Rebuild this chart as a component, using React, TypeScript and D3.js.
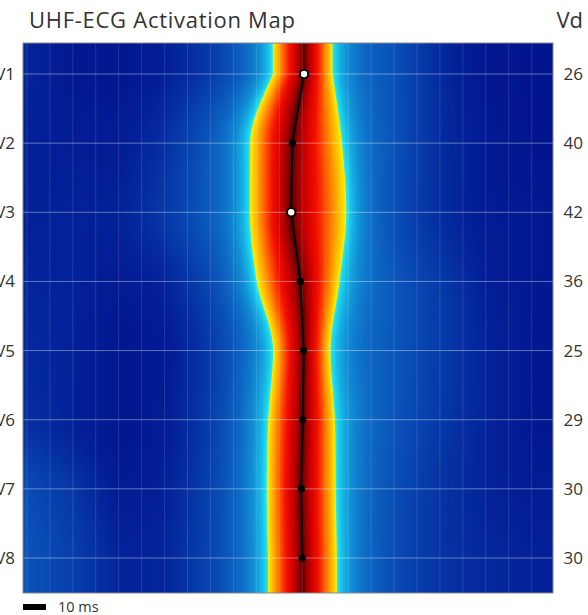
import React, { useMemo } from "react";
import * as d3 from "d3";

// Precordial leads, top to bottom
const leads = ["V1", "V2", "V3", "V4", "V5", "V6", "V7", "V8"];
// Local activation time of each lead (ms, relative to the reference instant)
const activationMs = [0.8, -4.3, -4.8, -0.8, 0.6, 0.2, -0.4, 0.0];
// Onset of the depolarisation band (ms)
const onsetMs = [-12.8, -22.7, -22.8, -19.8, -12.7, -14.8, -15.4, -14.9];
// Depolarisation duration Vd (ms) per lead
const vdMs = [26, 40, 42, 36, 25, 29, 30, 30];

// Time window shown (ms) and tick spacing
const timeDomain: [number, number] = [-121.7, 109.3];
const gridStepMs = 10;
const scaleBarMs = 10;

// Low-level background amplitude per lead, sampled along time
const baselineTimes = [-120, -100, -80, -60, -40, -20, 0, 20, 40, 60, 80, 100];
const baselineV1 = [0.06, 0.03, 0.02, 0.03, 0.05, 0.09, 0.1, 0.11, 0.11, 0.05, 0.02, 0.02];
const baselineV2 = [0.05, 0.04, 0.03, 0.05, 0.09, 0.11, 0.1, 0.11, 0.1, 0.05, 0.03, 0.02];
const baselineV3 = [0.05, 0.05, 0.04, 0.07, 0.1, 0.11, 0.1, 0.1, 0.08, 0.05, 0.03, 0.03];
const baselineV4 = [0.06, 0.05, 0.03, 0.03, 0.06, 0.11, 0.1, 0.13, 0.12, 0.08, 0.04, 0.03];
const baselineV5 = [0.07, 0.05, 0.02, 0.02, 0.05, 0.11, 0.1, 0.13, 0.13, 0.09, 0.05, 0.03];
const baselineV6 = [0.08, 0.05, 0.02, 0.02, 0.05, 0.11, 0.1, 0.13, 0.12, 0.08, 0.05, 0.03];
const baselineV7 = [0.14, 0.09, 0.03, 0.03, 0.06, 0.11, 0.1, 0.12, 0.1, 0.07, 0.05, 0.04];
const baselineV8 = [0.16, 0.11, 0.05, 0.04, 0.07, 0.11, 0.1, 0.11, 0.09, 0.07, 0.06, 0.05];
const baselines = [baselineV1, baselineV2, baselineV3, baselineV4, baselineV5, baselineV6, baselineV7, baselineV8];

// Jet-like colour ramp
const colorStops: [number, string][] = [
  [0.0, "#000c86"],
  [0.05, "#031e96"],
  [0.1, "#0638a8"],
  [0.16, "#0a52b8"],
  [0.22, "#0d6cc6"],
  [0.28, "#118cd4"],
  [0.33, "#16b2e3"],
  [0.37, "#1cd8ee"],
  [0.39, "#26eef4"],
  [0.5, "#90f880"],
  [0.62, "#fff000"],
  [0.7, "#ffb000"],
  [0.78, "#ff6000"],
  [0.86, "#f41000"],
  [0.93, "#d00000"],
  [0.975, "#9a0000"],
  [1.0, "#600000"],
];

const W = 588;
const H = 615;
const plot = { left: 23, right: 553, top: 43, bottom: 593 };

// Monotone cubic interpolation (Fritsch–Carlson) with quadratic end tangents
function monotone(xs: number[], ys: number[]) {
  const n = xs.length;
  const d: number[] = [];
  const m: number[] = new Array(n).fill(0);
  for (let i = 0; i < n - 1; i++) d[i] = (ys[i + 1] - ys[i]) / (xs[i + 1] - xs[i]);
  for (let i = 1; i < n - 1; i++) m[i] = d[i - 1] * d[i] <= 0 ? 0 : (d[i - 1] + d[i]) / 2;
  m[0] = d[0] === 0 ? 0 : (3 * d[0] - m[1]) / 2;
  m[n - 1] = d[n - 2] === 0 ? 0 : (3 * d[n - 2] - m[n - 2]) / 2;
  if (m[0] * d[0] < 0) m[0] = 0;
  if (m[n - 1] * d[n - 2] < 0) m[n - 1] = 0;
  for (let i = 0; i < n - 1; i++) {
    if (d[i] === 0) {
      m[i] = 0;
      m[i + 1] = 0;
    } else {
      const a = m[i] / d[i];
      const b = m[i + 1] / d[i];
      const s = a * a + b * b;
      if (s > 9) {
        const t = 3 / Math.sqrt(s);
        m[i] = t * a * d[i];
        m[i + 1] = t * b * d[i];
      }
    }
  }
  return (x: number) => {
    if (x <= xs[0]) return ys[0];
    if (x >= xs[n - 1]) return ys[n - 1];
    let i = 0;
    while (i < n - 2 && x > xs[i + 1]) i++;
    const h = xs[i + 1] - xs[i];
    const s = (x - xs[i]) / h;
    const s2 = s * s;
    const s3 = s2 * s;
    return (
      (2 * s3 - 3 * s2 + 1) * ys[i] +
      (s3 - 2 * s2 + s) * h * m[i] +
      (-2 * s3 + 3 * s2) * ys[i + 1] +
      (s3 - s2) * h * m[i + 1]
    );
  };
}

function buildHeatmap(
  x: d3.ScaleLinear<number, number>,
  rowY: number[]
): string {
  const w = plot.right - plot.left;
  const h = plot.bottom - plot.top;
  const canvas = document.createElement("canvas");
  canvas.width = w;
  canvas.height = h;
  const ctx = canvas.getContext("2d");
  if (!ctx) return "";
  const img = ctx.createImageData(w, h);

  const color = d3
    .scaleLinear<string>()
    .domain(colorStops.map((s) => s[0]))
    .range(colorStops.map((s) => s[1]))
    .interpolate(d3.interpolateRgb)
    .clamp(true);
  const LUT = 2048;
  const lut = new Uint8ClampedArray(LUT * 3);
  for (let i = 0; i < LUT; i++) {
    const c = d3.rgb(color(i / (LUT - 1)));
    lut[i * 3] = c.r;
    lut[i * 3 + 1] = c.g;
    lut[i * 3 + 2] = c.b;
  }
  const idx = (v: number) => Math.max(0, Math.min(LUT - 1, Math.round(v * (LUT - 1)))) * 3;

  const offsetMs = onsetMs.map((o, i) => o + vdMs[i]);
  const onsetAt = monotone(rowY, onsetMs);
  const offsetAt = monotone(rowY, offsetMs);
  const peakAt = monotone(rowY, activationMs);
  const pxPerMs = (plot.right - plot.left) / (timeDomain[1] - timeDomain[0]);

  const rowScales = baselines.map((vals) =>
    d3.scaleLinear().domain(baselineTimes).range(vals).clamp(true)
  );
  const colT: number[] = [];
  const colBg: ((yy: number) => number)[] = [];
  for (let px = 0; px < w; px++) {
    const t = x.invert(plot.left + px + 0.5);
    colT.push(t);
    colBg.push(monotone(rowY, rowScales.map((s) => s(t))));
  }

  const edgeIn = 0.62;
  const edgeOut = 0.39;
  for (let py = 0; py < h; py++) {
    const yy = plot.top + py + 0.5;
    const a = onsetAt(yy);
    const b = offsetAt(yy);
    const p = Math.max(a + 1, Math.min(b - 1, peakAt(yy)));
    for (let px = 0; px < w; px++) {
      const t = colT[px];
      const bg = Math.max(0, colBg[px](yy));
      const sd = Math.min(t - a, b - t); // ms, positive inside band
      const dOut = Math.max(0, -sd);
      const halo = 0.75 * Math.exp(-dOut / 11) + 0.25 * Math.exp(-dOut / 30);
      const vOut = bg + (edgeOut - bg) * halo;
      let u = t < p ? (t - a) / (p - a) : (b - t) / (b - p);
      u = Math.max(0, Math.min(1, u));
      const f = 1 - Math.pow(1 - u, 1.3);
      const vIn = edgeIn + (1 - edgeIn) * f;
      const cov = Math.max(0, Math.min(1, sd * pxPerMs + 0.5));
      const iO = idx(vOut);
      const iI = idx(vIn);
      const o = (py * w + px) * 4;
      img.data[o] = lut[iO] * (1 - cov) + lut[iI] * cov;
      img.data[o + 1] = lut[iO + 1] * (1 - cov) + lut[iI + 1] * cov;
      img.data[o + 2] = lut[iO + 2] * (1 - cov) + lut[iI + 2] * cov;
      img.data[o + 3] = 255;
    }
  }
  ctx.putImageData(img, 0, 0);
  return canvas.toDataURL();
}

export default function App() {
  const x = d3.scaleLinear().domain(timeDomain).range([plot.left, plot.right]);
  const y = d3.scalePoint<string>().domain(leads).range([74, 558]);
  const rowY = leads.map((l) => y(l) as number);

  const href = useMemo(() => buildHeatmap(x, rowY), []);

  const ticks = d3.range(
    Math.ceil(timeDomain[0] / gridStepMs) * gridStepMs,
    timeDomain[1],
    gridStepMs
  );
  const points = leads.map((l, i) => ({ lead: l, t: activationMs[i], yy: y(l) as number }));
  const earliest = d3.minIndex(activationMs);
  const latest = d3.maxIndex(activationMs);
  const line = d3
    .line<{ t: number; yy: number }>()
    .x((d) => x(d.t))
    .y((d) => d.yy);

  const textColor = "#333";
  const font = "'Open Sans', 'Noto Sans', sans-serif";

  return (
    <svg
      width={W}
      height={H}
      style={{ position: "absolute", left: 0, top: 0, background: "#fff" }}
      fontFamily={font}
    >
      <text
        x={29}
        y={28}
        fontSize={22}
        fill={textColor}
        textLength={266}
        lengthAdjust="spacing"
      >
        UHF-ECG Activation Map
      </text>
      <text x={583} y={28} fontSize={22} fill={textColor} textAnchor="end">
        Vd
      </text>

      {href && (
        <image
          href={href}
          x={plot.left}
          y={plot.top}
          width={plot.right - plot.left}
          height={plot.bottom - plot.top}
          preserveAspectRatio="none"
        />
      )}

      {/* time grid */}
      {ticks.map((t) => (
        <line
          key={`v${t}`}
          x1={x(t)}
          x2={x(t)}
          y1={plot.top}
          y2={plot.bottom}
          stroke="#fff"
          strokeOpacity={0.13}
          strokeWidth={1}
        />
      ))}
      {/* lead grid */}
      {leads.map((l) => (
        <line
          key={`h${l}`}
          x1={plot.left}
          x2={plot.right}
          y1={y(l)}
          y2={y(l)}
          stroke="#fff"
          strokeOpacity={0.38}
          strokeWidth={1}
        />
      ))}
      <rect
        x={plot.left}
        y={plot.top}
        width={plot.right - plot.left}
        height={plot.bottom - plot.top}
        fill="none"
        stroke="#8a8a8a"
        strokeWidth={1}
      />

      {/* activation sequence */}
      <path d={line(points) || ""} fill="none" stroke="#000" strokeWidth={2} />
      {points.map((p, i) => {
        const hi = i === earliest || i === latest;
        return (
          <circle
            key={p.lead}
            cx={x(p.t)}
            cy={p.yy}
            r={hi ? 4.2 : 3.6}
            fill={hi ? "#fff" : "#000"}
            stroke="#000"
            strokeWidth={hi ? 2 : 0}
          />
        );
      })}

      {/* lead labels */}
      {leads.map((l) => (
        <text
          key={`l${l}`}
          x={15}
          y={(y(l) as number) + 6}
          fontSize={17}
          fill={textColor}
          textAnchor="end"
        >
          {l}
        </text>
      ))}
      {/* Vd values */}
      {leads.map((l, i) => (
        <text
          key={`d${l}`}
          x={583}
          y={(y(l) as number) + 6}
          fontSize={17}
          fill={textColor}
          textAnchor="end"
        >
          {vdMs[i]}
        </text>
      ))}

      {/* scale bar */}
      <rect
        x={plot.left}
        y={604}
        width={x(timeDomain[0] + scaleBarMs) - x(timeDomain[0])}
        height={6}
        fill="#000"
      />
      <text x={58} y={612} fontSize={14.5} fill={textColor}>
        {`${scaleBarMs} ms`}
      </text>
    </svg>
  );
}
